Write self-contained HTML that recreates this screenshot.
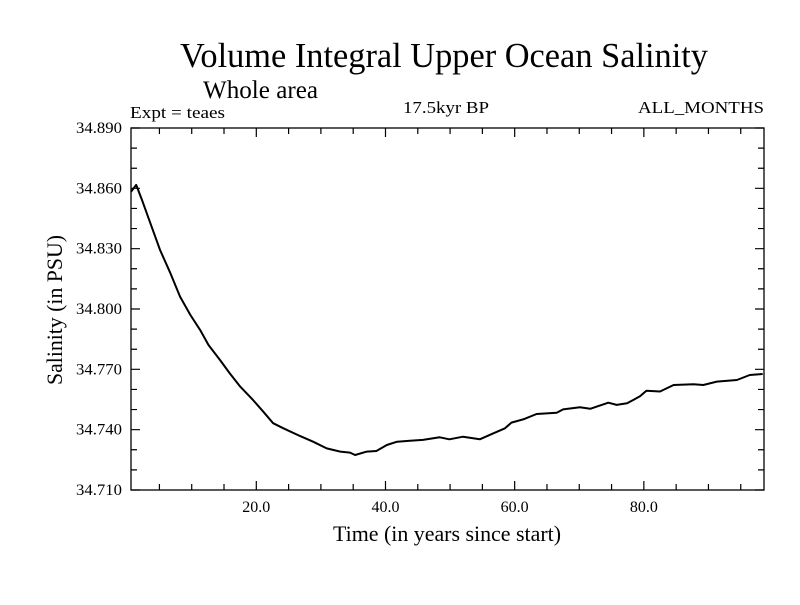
<!DOCTYPE html>
<html><head><meta charset="utf-8"><style>
body{margin:0;background:#fff;}
svg text{font-family:"Liberation Serif",serif;fill:#000;}
</style></head><body>
<svg id="chart" width="800" height="600" xmlns="http://www.w3.org/2000/svg">
<rect width="800" height="600" fill="#fff"/>
<text x="180" y="67" font-size="35" textLength="528" lengthAdjust="spacingAndGlyphs">Volume Integral Upper Ocean Salinity</text>
<text x="203" y="98" font-size="25" textLength="115" lengthAdjust="spacingAndGlyphs">Whole area</text>
<text x="130" y="118" font-size="17" textLength="95" lengthAdjust="spacingAndGlyphs">Expt = teaes</text>
<text x="403" y="113" font-size="17" textLength="86" lengthAdjust="spacingAndGlyphs">17.5kyr BP</text>
<text x="638" y="113" font-size="17" textLength="126" lengthAdjust="spacingAndGlyphs">ALL_MONTHS</text>
<text x="333" y="541" font-size="22" textLength="228" lengthAdjust="spacingAndGlyphs">Time (in years since start)</text>
<text transform="translate(62,385) rotate(-90)" font-size="22" textLength="150" lengthAdjust="spacingAndGlyphs">Salinity (in PSU)</text>
<g id="axes"></g>
<g id="plot"></g>
</svg>
<script>
const years=[0.6,1.4,2.3,3.6,5.1,6.7,8.2,9.8,11.3,12.6,14.4,15.9,17.5,19.5,21.1,22.6,24.2,26.8,28.8,30.9,33,34.5,35.3,37.1,38.6,40.2,41.8,43.8,45.8,48.4,49.9,52,54.6,56.7,58.5,59.5,61.3,63.4,66.5,67.5,70.1,71.7,74.5,75.8,77.4,79.4,80.4,82.5,84.6,87.7,89.2,91.3,94.4,96.4,98.4];
const salinity=[34.8583,34.8617,34.8542,34.8426,34.8293,34.8178,34.8061,34.7970,34.7896,34.7821,34.7746,34.7680,34.7614,34.7547,34.7489,34.7432,34.7407,34.7368,34.7340,34.7307,34.7291,34.7286,34.7274,34.7291,34.7294,34.7324,34.7340,34.7345,34.7349,34.7362,34.7352,34.7365,34.7352,34.7382,34.7407,34.7435,34.7451,34.7478,34.7484,34.7501,34.7511,34.7504,34.7534,34.7523,34.7531,34.7566,34.7594,34.7590,34.7622,34.7626,34.7622,34.7639,34.7647,34.7672,34.7677];
const xTickLabels=[20,40,60,80];
const yTickLabels=[34.710,34.740,34.770,34.800,34.830,34.860,34.890];
const X0=131,X1=764,Y0=128,Y1=490,xmin=0.6,xmax=98.6,ymin=34.710,ymax=34.890;
function sx(v){return X0+(v-xmin)/(xmax-xmin)*(X1-X0);}
function sy(v){return Y1-(v-ymin)/(ymax-ymin)*(Y1-Y0);}
const NS="http://www.w3.org/2000/svg";
const axes=document.getElementById('axes'),plot=document.getElementById('plot');
function mk(tag,attrs,parent){const e=document.createElementNS(NS,tag);for(const k in attrs)e.setAttribute(k,attrs[k]);parent.appendChild(e);return e;}
const frame=mk('rect',{x:X0,y:Y0,width:X1-X0,height:Y1-Y0,fill:'none',stroke:'#000','stroke-width':1.3},axes);


let d='';
for(let v=5;v<xmax;v+=5){const x=sx(v);const L=(v%20===0)?9:6;d+=`M${x},${Y1}v${-L}M${x},${Y0}v${L}`;}
for(let i=0;i<=18;i++){const v=ymin+i*0.01;const y=sy(v);const L=(i%3===0)?9:6;d+=`M${X0},${y}h${L}M${X1},${y}h${-L}`;}
const ticks=mk('path',{d:d,stroke:'#000','stroke-width':1.2,fill:'none'},axes);


xTickLabels.forEach(v=>{const t=mk('text',{x:sx(v),y:Y1+22,'font-size':15.5,'text-anchor':'middle',textLength:28,lengthAdjust:'spacingAndGlyphs'},axes);t.textContent=v.toFixed(1);

});
yTickLabels.forEach(v=>{const t=mk('text',{x:X0-55,y:sy(v)+5,'font-size':15.5,textLength:46,lengthAdjust:'spacingAndGlyphs'},axes);t.textContent=v.toFixed(3);

});
const pts=years.map((y,i)=>sx(y).toFixed(1)+','+sy(salinity[i]).toFixed(1)).join(' ');
const line=mk('polyline',{points:pts,fill:'none',stroke:'#000','stroke-width':2,'stroke-linejoin':'round'},plot);


</script>
</body></html>
